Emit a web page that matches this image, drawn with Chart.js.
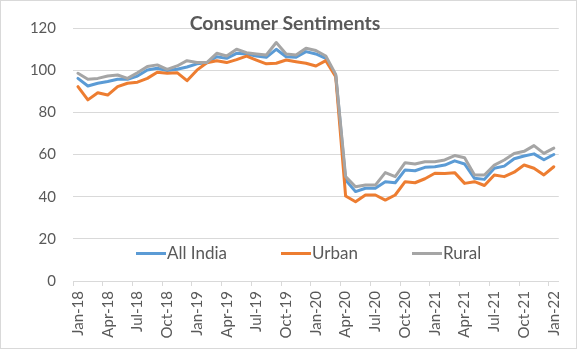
<!DOCTYPE html>
<html>
<head>
<meta charset="utf-8">
<script src="https://cdn.jsdelivr.net/npm/chart.js@4.4.1/dist/chart.umd.min.js"></script>
<style>
  body { margin: 0; background: #fff; }
  #wrap { position: relative; width: 577px; height: 349px; font-family: Lato, 'Open Sans', sans-serif; color: #595959; }
  #wrap canvas { position: absolute; left: 0; top: 0; }
  #frame { position: absolute; left: 0; top: 0; width: 575px; height: 347px; border: 1px solid #d9d9d9; pointer-events: none; }
  #title { position: absolute; left: 0; width: 570px; top: 11px; text-align: center; font-size: 19.5px; font-weight: bold; line-height: 24px; }
  #legend { position: absolute; left: 136px; top: 243px; display: flex; gap: 54px; font-size: 17px; line-height: 20px; }
  #legend .item { display: flex; align-items: center; }
  #legend .swatch { width: 30px; height: 3px; margin-right: 1px; }
</style>
</head>
<body>
<div id="wrap">
  <canvas id="chart" width="577" height="349"></canvas>
  <div id="title">Consumer Sentiments</div>
  <div id="legend"></div>
  <div id="frame"></div>
</div>
<script>
const months = [
  'Jan-18', 'Feb-18', 'Mar-18', 'Apr-18', 'May-18', 'Jun-18', 'Jul-18', 'Aug-18', 'Sep-18', 'Oct-18', 'Nov-18', 'Dec-18',
  'Jan-19', 'Feb-19', 'Mar-19', 'Apr-19', 'May-19', 'Jun-19', 'Jul-19', 'Aug-19', 'Sep-19', 'Oct-19', 'Nov-19', 'Dec-19',
  'Jan-20', 'Feb-20', 'Mar-20', 'Apr-20', 'May-20', 'Jun-20', 'Jul-20', 'Aug-20', 'Sep-20', 'Oct-20', 'Nov-20', 'Dec-20',
  'Jan-21', 'Feb-21', 'Mar-21', 'Apr-21', 'May-21', 'Jun-21', 'Jul-21', 'Aug-21', 'Sep-21', 'Oct-21', 'Nov-21', 'Dec-21',
  'Jan-22'
]

const allIndia = [
  96.1, 92.5, 93.8, 94.6, 95.7, 95.7, 97.2, 100.1, 100.9, 99.8, 100.4, 101.5,
  103.0, 103.5, 106.4, 105.6, 108.0, 107.7, 106.7, 106.1, 109.9, 106.4, 106.1, 108.8,
  107.7, 105.6, 97.5, 47.9, 42.4, 44.0, 44.0, 47.1, 46.6, 52.7, 52.3, 53.9,
  54.2, 55.0, 57.0, 55.5, 48.7, 48.2, 53.5, 54.5, 58.0, 59.3, 60.3, 57.5,
  60.0
]
const urban = [
  92.2, 85.9, 89.3, 88.2, 92.2, 93.8, 94.3, 96.1, 99.0, 98.5, 98.8, 95.0,
  100.0, 103.5, 104.5, 103.6, 105.0, 106.7, 104.8, 103.0, 103.3, 104.8, 104.0, 103.3,
  102.0, 104.5, 96.9, 40.3, 37.6, 40.8, 40.8, 38.4, 40.8, 47.1, 46.6, 48.5,
  51.1, 51.0, 51.4, 46.3, 47.1, 45.3, 50.3, 49.5, 51.6, 55.0, 53.5, 50.3,
  54.2
]
const rural = [
  98.5, 95.7, 96.1, 97.2, 97.7, 96.1, 98.8, 101.7, 102.5, 100.4, 102.0, 104.5,
  103.6, 103.6, 108.0, 106.7, 109.9, 108.3, 107.7, 107.2, 113.1, 107.7, 107.2, 110.4,
  109.3, 106.7, 98.0, 49.5, 44.7, 45.5, 45.5, 51.4, 49.5, 56.1, 55.5, 56.6,
  56.6, 57.4, 59.5, 58.5, 50.3, 50.3, 55.0, 57.4, 60.5, 61.5, 64.2, 60.5,
  63.0
]

const seriesNames = ['All India', 'Urban', 'Rural']
const seriesColors = ['#5b9bd5', '#ed7d31', '#a5a5a5']

const gridColor = '#d9d9d9'
const fontFamily = "Lato, 'Open Sans', sans-serif"

// rural sits on top, then urban, then all india
const makeLine = (label, data, color, order) => ({
  label,
  data,
  borderColor: color,
  backgroundColor: color,
  borderWidth: 3,
  pointRadius: 0,
  tension: 0,
  borderJoinStyle: 'round',
  borderCapStyle: 'round',
  order,
})

const ctx = document.getElementById('chart').getContext('2d')
const chart = new Chart(ctx, {
  type: 'line',
  data: {
    labels: months,
    datasets: [
      makeLine(seriesNames[0], allIndia, seriesColors[0], 3),
      makeLine(seriesNames[1], urban, seriesColors[1], 2),
      makeLine(seriesNames[2], rural, seriesColors[2], 1),
    ],
  },
  options: {
    responsive: false,
    animation: false,
    layout: { padding: { left: 0, top: 28, right: 18, bottom: 0 } },
    plugins: {
      legend: { display: false },
      title: { display: false },
      tooltip: { enabled: false },
    },
    scales: {
      x: {
        offset: true,
        border: { color: gridColor, width: 1 },
        grid: {
          offset: true,
          drawOnChartArea: false,
          drawTicks: true,
          tickLength: 5,
          color: (c) => (c.index % 3 === 0 ? gridColor : 'rgba(0,0,0,0)'),
        },
        ticks: {
          autoSkip: false,
          maxRotation: 90,
          minRotation: 90,
          padding: 5,
          color: '#595959',
          font: { family: fontFamily, size: 15 },
          callback: function (val, i) {
            return i % 3 === 0 ? this.getLabelForValue(val) : ''
          },
        },
        afterFit: (scale) => {
          scale.height = 68
        },
      },
      y: {
        min: 0,
        max: 120,
        border: { display: false },
        grid: { color: gridColor, drawTicks: false },
        ticks: {
          stepSize: 20,
          padding: 17,
          color: '#595959',
          font: { family: fontFamily, size: 15 },
        },
        afterFit: (scale) => {
          scale.width = 73
        },
      },
    },
  },
})

// legend built from the datasets, laid over the lower part of the plot
const legendBox = document.getElementById('legend')
seriesNames.forEach((name) => {
  const ds = chart.data.datasets.find((d) => d.label === name)
  const item = document.createElement('div')
  item.className = 'item'
  item.innerHTML = `<span class="swatch" style="background:${ds.borderColor}"></span><span>${ds.label}</span>`
  legendBox.appendChild(item)
})
</script>
</body>
</html>
